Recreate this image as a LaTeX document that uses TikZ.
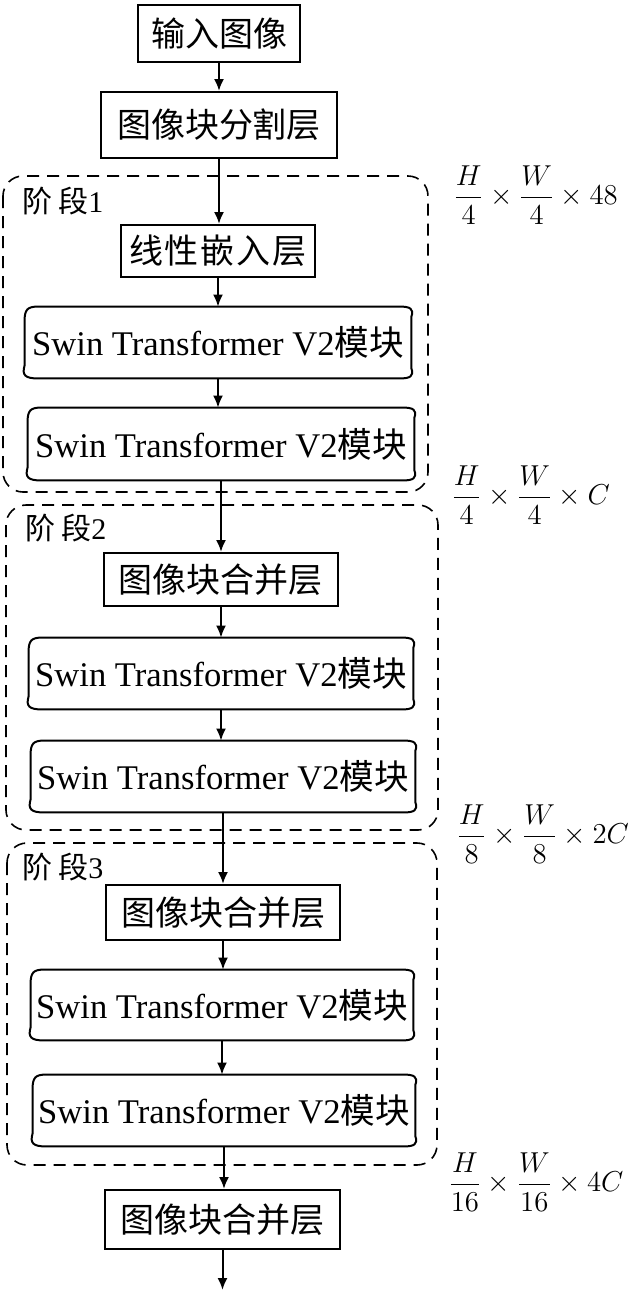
\documentclass[tikz,border=0pt]{standalone}
\usepackage{amsmath}
\usepackage[no-math]{fontspec}
\setmainfont{Liberation Serif}
\newfontfamily\cjk{Noto Sans CJK SC}
\usetikzlibrary{arrows.meta,calc}
\newcommand\scrollbox[1]{%
 \draw[line width=1pt]
 ([shift={(14,0)}]#1.north west) -- ([shift={(-12,0)}]#1.north east)
 .. controls ([shift={(-3,0)}]#1.north east) and ([shift={(2,2)}]#1.north east) .. ([shift={(-1,10)}]#1.north east)
 -- ([shift={(-1,-10)}]#1.south east)
 .. controls ([shift={(2,-2)}]#1.south east) and ([shift={(-3,0)}]#1.south east) .. ([shift={(-12,0)}]#1.south east)
 -- ([shift={(14,0)}]#1.south west)
 .. controls ([shift={(2,0)}]#1.south west) and ([shift={(-2,-3)}]#1.south west) .. ([shift={(1,-13)}]#1.south west)
 -- ([shift={(1,14)}]#1.north west)
 .. controls ([shift={(1,3)}]#1.north west) and ([shift={(4,0)}]#1.north west) .. ([shift={(14,0)}]#1.north west) -- cycle;}
\tikzset{
 plain/.style 2 args={draw, line width=1pt, inner sep=0pt, minimum width=#1*0.5pt, minimum height=#2*0.5pt, font=\fontsize{17}{20}\selectfont\cjk},
 swin/.style 2 args={inner sep=0pt, minimum width=#1*0.5pt, minimum height=#2*0.5pt, font=\fontsize{17.3}{20}\selectfont},
 stage/.style={draw, dash pattern=on 6pt off 4pt, line width=0.8pt, rounded corners=10pt},
 arr/.style={line width=1pt, -{Latex[length=6pt,width=5pt]}},
 dimlbl/.style={anchor=west, inner sep=0pt, font=\fontsize{14.4}{17}\selectfont},
 lbl/.style={anchor=west, inner sep=0pt, font=\fontsize{15}{18}\selectfont},
}
\begin{document}
\begin{tikzpicture}[x=0.5pt, y=-0.5pt]
\useasboundingbox (0,0) rectangle (638,1292);
% stages
\draw[stage] (3,176) rectangle (428,492);
\draw[stage] (6,505) rectangle (438,830);
\draw[stage] (7,843) rectangle (437,1165);
\node[lbl] (l1) at (22,201) {{\cjk 阶\hspace{3pt}段}1};
\node[lbl] (l2) at (25,528) {{\cjk 阶\hspace{3pt}段}2};
\node[lbl] (l3) at (22,867) {{\cjk 阶\hspace{3pt}段}3};
% nodes
\node[plain={162}{57}] (in) at (219,33.5) {输入图像};
\node[plain={236}{66}] (split) at (219,125) {图像块分割层};
\node[plain={194}{52}] (embed) at (218,251) {线\hspace{1pt}性\hspace{1pt}嵌\hspace{1pt}入\hspace{1pt}层};
\node[swin={388}{71}] (sw1) at (218,342.5) {Swin Transformer V2{\cjk 模块}};
\node[swin={388}{72}] (sw2) at (221,444) {Swin Transformer V2{\cjk 模块}};
\node[plain={234}{53}] (m2) at (221,579.5) {图像块合并层};
\node[swin={386}{71}] (sw3) at (221,673.5) {Swin Transformer V2{\cjk 模块}};
\node[swin={386}{71}] (sw4) at (223,776.5) {Swin Transformer V2{\cjk 模块}};
\node[plain={234}{55}] (m3) at (223,912.5) {图像块合并层};
\node[swin={384}{70}] (sw5) at (222,1005) {Swin Transformer V2{\cjk 模块}};
\node[swin={384}{71}] (sw6) at (224,1110.5) {Swin Transformer V2{\cjk 模块}};
\node[plain={235}{59}] (m4) at (222.5,1219.5) {图像块合并层};
\coordinate (out) at (222.5,1290);
\scrollbox{sw1}\scrollbox{sw2}\scrollbox{sw3}\scrollbox{sw4}\scrollbox{sw5}\scrollbox{sw6}
% arrows
\draw[arr] (in.south) -- (in.south |- split.north);
\draw[arr] (split.south) -- (split.south |- embed.north);
\draw[arr] (embed.south) -- (embed.south |- sw1.north);
\draw[arr] (sw1.south) -- (sw1.south |- sw2.north);
\draw[arr] (sw2.south) -- (sw2.south |- m2.north);
\draw[arr] (m2.south) -- (m2.south |- sw3.north);
\draw[arr] (sw3.south) -- (sw3.south |- sw4.north);
\draw[arr] (sw4.south) -- (sw4.south |- m3.north);
\draw[arr] (m3.south) -- (m3.south |- sw5.north);
\draw[arr] (sw5.south) -- (sw5.south |- sw6.north);
\draw[arr] (sw6.south) -- (sw6.south |- m4.north);
\draw[arr] (m4.south) -- (out);
% dimension labels
\node[dimlbl] (d1) at (453,195) {$\dfrac{H}{4}\times\dfrac{W}{4}\times 48$};
\node[dimlbl] (d2) at (451,495) {$\dfrac{H}{4}\times\dfrac{W}{4}\times C$};
\node[dimlbl] (d3) at (456,834) {$\dfrac{H}{8}\times\dfrac{W}{8}\times 2C$};
\node[dimlbl] (d4) at (448,1182) {$\dfrac{H}{16}\times\dfrac{W}{16}\times 4C$};
\end{tikzpicture}
\end{document}
